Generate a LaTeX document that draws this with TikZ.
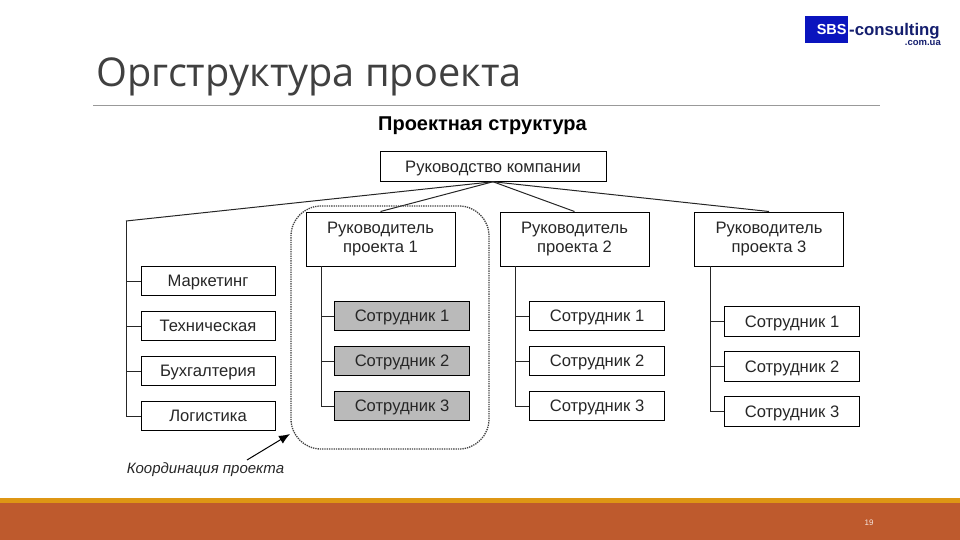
\documentclass[tikz,border=0pt]{standalone}
\usepackage{fontspec}
\setmainfont{Liberation Sans}
\newfontfamily\titlefont{Open Sans}
\usetikzlibrary{arrows.meta}

\definecolor{barorange}{RGB}{190,90,45}
\definecolor{bargold}{RGB}{222,150,20}
\definecolor{logoblue}{RGB}{10,20,190}
\definecolor{logodark}{RGB}{20,30,110}

\tikzset{
    orgbox/.style={draw, line width=1pt, minimum height=#1, inner sep=0pt, font=\fontsize{16.6}{19.5}\selectfont, text=black!85},
    orgbox/.default=29.5pt,
    mainbox/.style={orgbox=54pt, minimum width=149pt, align=center},
    linebox/.style={orgbox, text height=11pt, text depth=0pt},
    leftbox/.style={linebox, minimum width=134pt},
    staffbox/.style={linebox, minimum width=135pt},
    grayfill/.style={fill=black!27},
    branch/.style={line width=1pt, draw=black!85},
}

\begin{document}
\begin{tikzpicture}[x=1pt, y=-1pt]
        \useasboundingbox (0,0) rectangle (960,540);

        % slide
        \fill[barorange] (0,498) rectangle (960,540);
        \fill[bargold] (0,498) rectangle (960,503);
        \node[anchor=base west, inner sep=0pt, font=\titlefont\fontsize{39.7}{44}\selectfont, text=black!75] (title) at (96,86.5) {Оргструктура проекта};
        \coordinate (rulea) at (93,105);
        \coordinate (ruleb) at (880,105);
        \draw[black!40, line width=0.7pt] (rulea) -- (ruleb);
        \node[font=\fontsize{8}{10}\selectfont, text=white!85!barorange] (pageno) at (869,523) {19};

        % logo
        \node[fill=logoblue, minimum width=43pt, minimum height=27pt, inner sep=0pt, anchor=north west, font=\bfseries\fontsize{14.5}{15}\selectfont, text=white] (logobox) at (805,16) {\hspace{10pt}SBS};
        \node[anchor=base west, inner sep=0pt, font=\bfseries\fontsize{16.8}{18}\selectfont, text=logodark] (logotext) at (849,36) {-consulting};
        \node[anchor=base east, inner sep=0pt, font=\bfseries\fontsize{9.5}{11}\selectfont, text=logodark] (logoua) at (941,46) {.com.ua};

        \node[font=\bfseries\fontsize{20}{22}\selectfont] (heading) at (482.5,125.5) {Проектная структура};

        \node[linebox, minimum width=226pt] (top) at (493,166.5) {Руководство компании};

        \node[mainbox] (pma) at (380.5,239) {Руководитель\\проекта 1};
        \node[mainbox] (pmb) at (574.5,239) {Руководитель\\проекта 2};
        \node[mainbox] (pmc) at (769,239) {Руководитель\\проекта 3};

        \node[leftbox] (market) at (208,281) {Маркетинг};
        \node[leftbox] (tech) at (208,326) {Техническая};
        \node[leftbox] (account) at (208,371) {Бухгалтерия};
        \node[leftbox] (logist) at (208,416) {Логистика};

        \node[staffbox, grayfill] (staffaa) at (402,316) {Сотрудник 1};
        \node[staffbox, grayfill] (staffab) at (402,361) {Сотрудник 2};
        \node[staffbox, grayfill] (staffac) at (402,406) {Сотрудник 3};

        \node[staffbox] (staffba) at (597,316) {Сотрудник 1};
        \node[staffbox] (staffbb) at (597,361) {Сотрудник 2};
        \node[staffbox] (staffbc) at (597,406) {Сотрудник 3};

        \node[staffbox] (staffca) at (792,321.5) {Сотрудник 1};
        \node[staffbox] (staffcb) at (792,366.5) {Сотрудник 2};
        \node[staffbox] (staffcc) at (792,411.5) {Сотрудник 3};

        \coordinate (lefttop) at (126,221);
        \coordinate (trunka) at (321,266);
        \coordinate (trunkb) at (515,266);
        \coordinate (trunkc) at (710,266);

        \draw[branch] (top.south) -- (lefttop);
        \draw[branch] (top.south) -- (pma.north);
        \draw[branch] (top.south) -- (pmb.north);
        \draw[branch] (top.south) -- (pmc.north);

        \foreach \boxname in {market, tech, account, logist}
            \draw[branch] (lefttop) |- (\boxname.west);
        \foreach \boxname in {staffaa, staffab, staffac}
            \draw[branch] (trunka) |- (\boxname.west);
        \foreach \boxname in {staffba, staffbb, staffbc}
            \draw[branch] (trunkb) |- (\boxname.west);
        \foreach \boxname in {staffca, staffcb, staffcc}
            \draw[branch] (trunkc) |- (\boxname.west);

        % coordination frame
        \node[draw=black!75, densely dotted, line width=1.3pt, rounded corners=30pt, minimum width=198pt, minimum height=243pt, inner sep=0pt] (frame) at (390,327.5) {};
        \node[anchor=base, font=\itshape\fontsize{15}{16}\selectfont, inner sep=0pt, text=black!85] (coord) at (205.5,473) {Координация проекта};
        \coordinate (arrowstart) at (247,460);
        \coordinate (arrowend) at (290,434);
        \draw[-{Latex[length=11pt, width=9pt]}, line width=1pt] (arrowstart) -- (arrowend);
\end{tikzpicture}
\end{document}
